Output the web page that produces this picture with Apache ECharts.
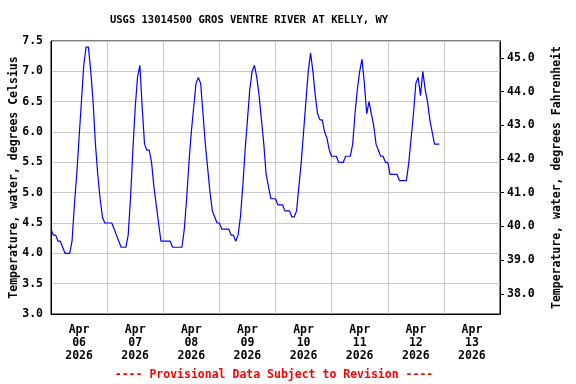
<!DOCTYPE html>
<html><head><meta charset="utf-8">
<script src="https://cdn.jsdelivr.net/npm/echarts@6/dist/echarts.min.js"></script>
<style>html,body{margin:0;padding:0;background:#fff}#c{width:576px;height:384px}</style>
</head><body><div id="c"></div>
<script>
const chartTitle = 'USGS 13014500 GROS VENTRE RIVER AT KELLY, WY';
const footnote = '---- Provisional Data Subject to Revision ----';
const leftAxisName = 'Temperature, water, degrees Celsius';
const rightAxisName = 'Temperature, water, degrees Fahrenheit';
const monthNames = ['Jan','Feb','Mar','Apr','May','Jun','Jul','Aug','Sep','Oct','Nov','Dec'];
const startDate = [2026, 3, 6];   // Apr 06 2026, 00:00
const dayCount = 8;               // Apr 06 .. Apr 13
const celsiusRange = [3.0, 7.5];
const celsiusStep = 0.5;
const fahrenheitTicks = [38, 39, 40, 41, 42, 43, 44, 45];

// hourly water temperature, deg C
const apr06 = [4.4,4.3,4.3,4.2,4.2,4.1,4.0,4.0,4.0,4.2,4.8,5.3,5.9,6.5,7.1,7.4,7.4,7.0,6.5,5.8,5.3,4.9,4.6,4.5];
const apr07 = [4.5,4.5,4.5,4.4,4.3,4.2,4.1,4.1,4.1,4.3,4.9,5.7,6.4,6.9,7.1,6.4,5.8,5.7,5.7,5.5,5.1,4.8,4.5,4.2];
const apr08 = [4.2,4.2,4.2,4.2,4.1,4.1,4.1,4.1,4.1,4.4,4.9,5.5,6.0,6.4,6.8,6.9,6.8,6.3,5.8,5.4,5.0,4.7,4.6,4.5];
const apr09 = [4.5,4.4,4.4,4.4,4.4,4.3,4.3,4.2,4.3,4.6,5.1,5.7,6.2,6.7,7.0,7.1,6.9,6.6,6.2,5.8,5.3,5.1,4.9,4.9];
const apr10 = [4.9,4.8,4.8,4.8,4.7,4.7,4.7,4.6,4.6,4.7,5.1,5.5,6.0,6.5,7.0,7.3,7.0,6.6,6.3,6.2,6.2,6.0,5.9,5.7];
const apr11 = [5.6,5.6,5.6,5.5,5.5,5.5,5.6,5.6,5.6,5.8,6.3,6.7,7.0,7.2,6.8,6.3,6.5,6.3,6.1,5.8,5.7,5.6,5.6,5.5];
const apr12 = [5.5,5.3,5.3,5.3,5.3,5.2,5.2,5.2,5.2,5.5,5.9,6.3,6.8,6.9,6.6,7.0,6.7,6.5,6.2,6.0,5.8,5.8,5.8];

const HOUR = 3600 * 1000, DAY = 24 * HOUR;
const base = new Date(startDate[0], startDate[1], startDate[2], 0, 0, 0).getTime();
const hourly = [].concat(apr06, apr07, apr08, apr09, apr10, apr11, apr12);
const seriesData = hourly.map((v, i) => [base + i * HOUR, v]);
const midnights = Array.from({length: dayCount + 1}, (_, i) => base + i * DAY);
const noons = Array.from({length: dayCount}, (_, i) => base + i * DAY + 12 * HOUR);
const c2f = c => +(c * 1.8 + 32).toFixed(2);

const FONT = 'DejaVu Sans Mono';
const txt = {fontFamily: FONT, fontWeight: 'bold', fontSize: 11.5, color: '#000'};

const chart = echarts.init(document.getElementById('c'), null, {renderer: 'canvas'});
chart.setOption({
  animation: false,
  backgroundColor: '#fff',
  grid: {left: 51, right: 76, top: 41, bottom: 70, show: true, borderColor: '#000', borderWidth: 1,
         backgroundColor: 'transparent', outerBoundsMode: 'none', containLabel: false},
  graphic: [
    {type: 'text', x: 249, y: 20.5, style: {text: chartTitle, fontFamily: FONT, fontWeight: 'bold', fontSize: 10.5, fill: '#000', textAlign: 'center', textVerticalAlign: 'middle'}},
    {type: 'text', x: 274, y: 375, style: {text: footnote, fontFamily: FONT, fontWeight: 'bold', fontSize: 11.5, fill: '#ff0000', textAlign: 'center', textVerticalAlign: 'middle'}}
  ],
  xAxis: {
    type: 'value', min: base, max: base + dayCount * DAY,
    axisLine: {show: true, lineStyle: {color: '#000', width: 1}},
    axisTick: {show: false, customValues: midnights},
    splitLine: {show: true, lineStyle: {color: '#c8c8c8', width: 1}},
    axisLabel: Object.assign({}, txt, {
      customValues: noons, margin: 10, lineHeight: 13, hideOverlap: false,
      formatter: v => { const d = new Date(v); return monthNames[d.getMonth()] + '\n' + String(d.getDate()).padStart(2, '0') + '\n' + d.getFullYear(); }
    })
  },
  yAxis: [
    {
      type: 'value', min: celsiusRange[0], max: celsiusRange[1], interval: celsiusStep,
      axisLine: {show: true, lineStyle: {color: '#000', width: 1}},
      axisTick: {show: false},
      splitLine: {show: true, lineStyle: {color: '#c8c8c8', width: 1}},
      axisLabel: Object.assign({}, txt, {margin: 8, formatter: v => v.toFixed(1)}),
      name: leftAxisName, nameLocation: 'middle', nameGap: 31, nameRotate: 90, nameMoveOverlap: false,
      nameTextStyle: Object.assign({}, txt)
    },
    {
      type: 'value', position: 'right', min: c2f(celsiusRange[0]), max: c2f(celsiusRange[1]),
      axisLine: {show: true, lineStyle: {color: '#000', width: 1}},
      axisTick: {show: true, length: 4, customValues: fahrenheitTicks, lineStyle: {color: '#000'}},
      splitLine: {show: false},
      axisLabel: Object.assign({}, txt, {margin: 7, customValues: fahrenheitTicks, formatter: v => v.toFixed(1)}),
      name: rightAxisName, nameLocation: 'middle', nameGap: 51, nameRotate: 90, nameMoveOverlap: false,
      nameTextStyle: Object.assign({}, txt)
    }
  ],
  series: [{
    type: 'line', yAxisIndex: 0, showSymbol: false, symbol: 'none',
    data: seriesData,
    lineStyle: {color: '#0000ff', width: 1.2},
    itemStyle: {color: '#0000ff'}
  }]
});
</script></body></html>
